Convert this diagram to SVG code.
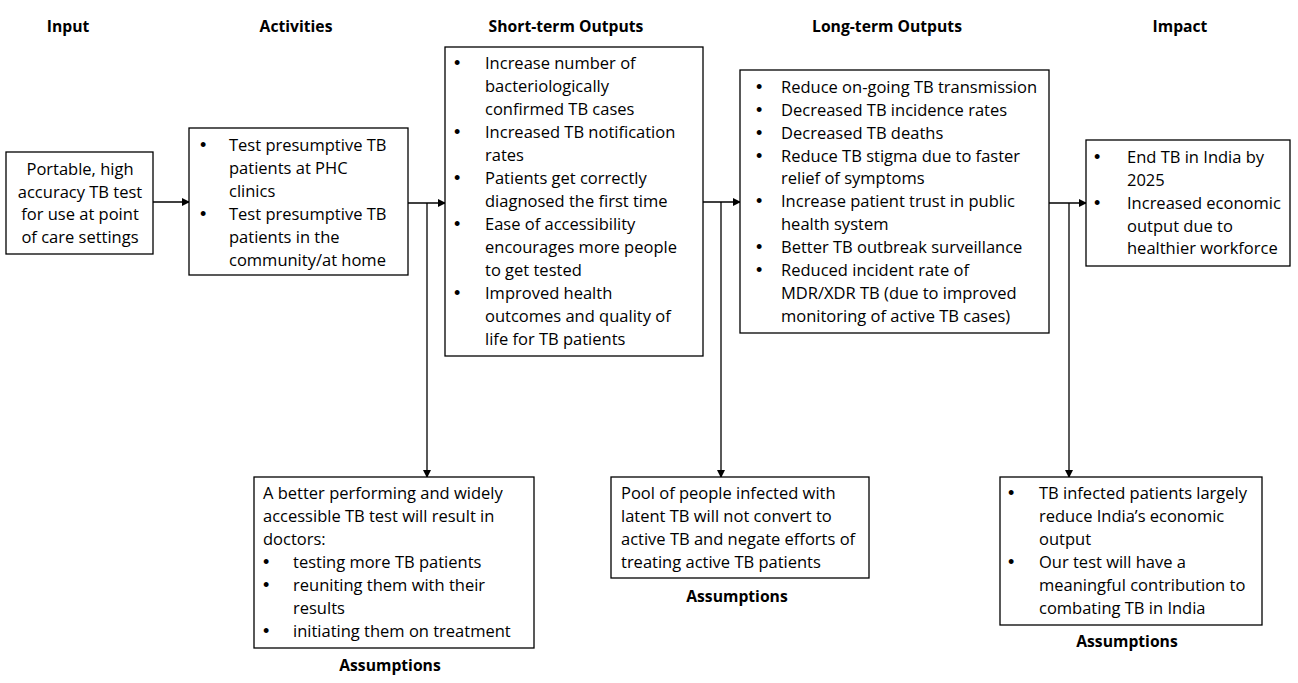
<svg xmlns="http://www.w3.org/2000/svg" width="1298" height="683" viewBox="0 0 1298 683">
<style>
text{font-family:"Open Sans","Liberation Sans",sans-serif;font-size:16.5px;fill:#000}
.h{font-weight:bold;text-anchor:middle;font-size:15.7px}
.c{text-anchor:middle}
.b{font-size:18px;font-family:"Liberation Sans",sans-serif}
rect{fill:#fff;stroke:#000;stroke-width:1.3}
.ln{stroke:#000;stroke-width:1.3;fill:none}
</style>
<defs>
<marker id="ah" markerWidth="8" markerHeight="8" refX="7" refY="4" orient="auto" markerUnits="userSpaceOnUse"><path d="M0,0 L8,4 L0,8 Z" fill="#000"/></marker>
</defs>
<g id="headers">
<text class="h" x="68" y="32">Input</text>
<text class="h" x="296" y="32">Activities</text>
<text class="h" x="566" y="32">Short-term Outputs</text>
<text class="h" x="887" y="32">Long-term Outputs</text>
<text class="h" x="1180" y="32">Impact</text>
</g>
<g id="connectors">
<line class="ln" x1="153" y1="202" x2="189" y2="202" marker-end="url(#ah)"/>
<line class="ln" x1="408" y1="203" x2="445" y2="203" marker-end="url(#ah)"/>
<line class="ln" x1="427" y1="203" x2="427" y2="477" marker-end="url(#ah)"/>
<line class="ln" x1="703" y1="202" x2="740" y2="202" marker-end="url(#ah)"/>
<line class="ln" x1="721" y1="202" x2="721" y2="477" marker-end="url(#ah)"/>
<line class="ln" x1="1049" y1="203" x2="1086" y2="203" marker-end="url(#ah)"/>
<line class="ln" x1="1069" y1="203" x2="1069" y2="477" marker-end="url(#ah)"/>
</g>
<g id="input">
<rect x="6" y="152" width="147" height="102"/>
<text class="c" x="80" y="175">Portable, high</text>
<text class="c" x="80" y="198">accuracy TB test</text>
<text class="c" x="80" y="220">for use at point</text>
<text class="c" x="80" y="243">of care settings</text>
</g>
<g id="activities">
<rect x="189" y="128" width="219" height="147"/>
<text class="b" x="200" y="151">•</text><text x="229" y="151">Test presumptive TB</text>
<text x="229" y="174">patients at PHC</text>
<text x="229" y="197">clinics</text>
<text class="b" x="200" y="220">•</text><text x="229" y="220">Test presumptive TB</text>
<text x="229" y="243">patients in the</text>
<text x="229" y="266">community/at home</text>
</g>
<g id="short-term">
<rect x="445" y="47" width="258" height="309"/>
<text class="b" x="454" y="69">•</text><text x="485" y="69">Increase number of</text>
<text x="485" y="92">bacteriologically</text>
<text x="485" y="115">confirmed TB cases</text>
<text class="b" x="454" y="138">•</text><text x="485" y="138">Increased TB notification</text>
<text x="485" y="161">rates</text>
<text class="b" x="454" y="184">•</text><text x="485" y="184">Patients get correctly</text>
<text x="485" y="207">diagnosed the first time</text>
<text class="b" x="454" y="230">•</text><text x="485" y="230">Ease of accessibility</text>
<text x="485" y="253">encourages more people</text>
<text x="485" y="276">to get tested</text>
<text class="b" x="454" y="299">•</text><text x="485" y="299">Improved health</text>
<text x="485" y="322">outcomes and quality of</text>
<text x="485" y="345">life for TB patients</text>
</g>
<g id="long-term">
<rect x="740" y="70" width="309" height="263"/>
<text class="b" x="756" y="93">•</text><text x="781" y="93">Reduce on-going TB transmission</text>
<text class="b" x="756" y="116">•</text><text x="781" y="116">Decreased TB incidence rates</text>
<text class="b" x="756" y="139">•</text><text x="781" y="139">Decreased TB deaths</text>
<text class="b" x="756" y="162">•</text><text x="781" y="162">Reduce TB stigma due to faster</text>
<text x="781" y="184">relief of symptoms</text>
<text class="b" x="756" y="207">•</text><text x="781" y="207">Increase patient trust in public</text>
<text x="781" y="230">health system</text>
<text class="b" x="756" y="253">•</text><text x="781" y="253">Better TB outbreak surveillance</text>
<text class="b" x="756" y="276">•</text><text x="781" y="276">Reduced incident rate of</text>
<text x="781" y="299">MDR/XDR TB (due to improved</text>
<text x="781" y="322">monitoring of active TB cases)</text>
</g>
<g id="impact">
<rect x="1086" y="140" width="204" height="126"/>
<text class="b" x="1094" y="163">•</text><text x="1127" y="163">End TB in India by</text>
<text x="1127" y="186">2025</text>
<text class="b" x="1094" y="209">•</text><text x="1127" y="209">Increased economic</text>
<text x="1127" y="232">output due to</text>
<text x="1127" y="254">healthier workforce</text>
</g>
<g id="assumptions-1">
<rect x="254" y="477" width="280" height="171"/>
<text x="263" y="499">A better performing and widely</text>
<text x="263" y="522">accessible TB test will result in</text>
<text x="263" y="545">doctors:</text>
<text class="b" x="263" y="568">•</text><text x="293" y="568">testing more TB patients</text>
<text class="b" x="263" y="591">•</text><text x="293" y="591">reuniting them with their</text>
<text x="293" y="614">results</text>
<text class="b" x="263" y="637">•</text><text x="293" y="637">initiating them on treatment</text>
<text class="h" x="390" y="671">Assumptions</text>
</g>
<g id="assumptions-2">
<rect x="611" y="477" width="258" height="101"/>
<text x="621" y="499">Pool of people infected with</text>
<text x="621" y="522">latent TB will not convert to</text>
<text x="621" y="545">active TB and negate efforts of</text>
<text x="621" y="568">treating active TB patients</text>
<text class="h" x="737" y="602">Assumptions</text>
</g>
<g id="assumptions-3">
<rect x="1000" y="477" width="262" height="148"/>
<text class="b" x="1008" y="499">•</text><text x="1039" y="499">TB infected patients largely</text>
<text x="1039" y="522">reduce India’s economic</text>
<text x="1039" y="545">output</text>
<text class="b" x="1008" y="568">•</text><text x="1039" y="568">Our test will have a</text>
<text x="1039" y="591">meaningful contribution to</text>
<text x="1039" y="614">combating TB in India</text>
<text class="h" x="1127" y="647">Assumptions</text>
</g>
</svg>
